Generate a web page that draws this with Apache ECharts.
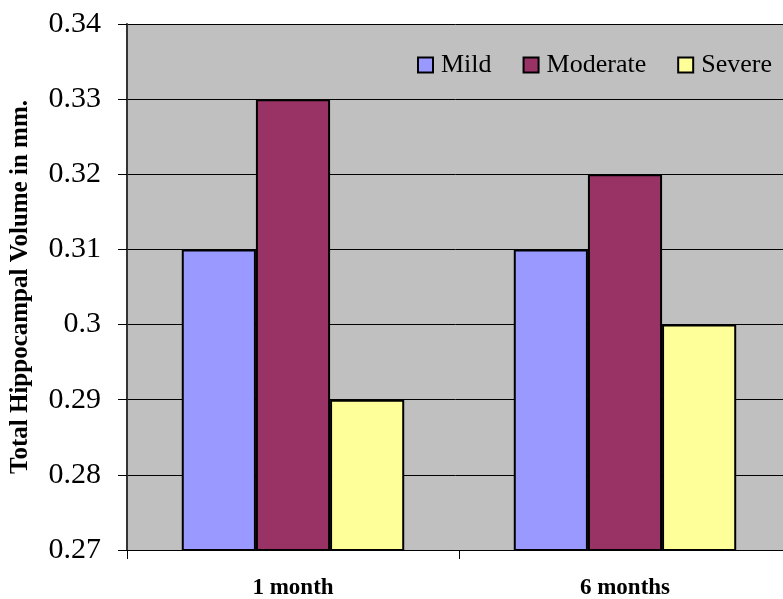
<!DOCTYPE html>
<html><head><meta charset="utf-8">
<script src="https://cdn.jsdelivr.net/npm/echarts@6/dist/echarts.min.js"></script>
<style>html,body{margin:0;padding:0;background:#fff}#c{width:783px;height:599px}</style>
</head><body><div id="c"></div>
<script>
const categories = ['1 month', '6 months'];
const mild = [0.31, 0.31];
const moderate = [0.33, 0.32];
const severe = [0.29, 0.30];
const yTicks = [0.27, 0.28, 0.29, 0.30, 0.31, 0.32, 0.33, 0.34];

const chart = echarts.init(document.getElementById('c'));
const serif = '"Liberation Serif", "Times New Roman", serif';
const mk = (name, data, color) => ({
  name, type: 'bar', data, barGap: 0, barCategoryGap: '33%',
  itemStyle: { color, borderColor: '#000', borderWidth: 2 }
});
chart.setOption({
  animation: false,
  backgroundColor: '#fff',
  textStyle: { fontFamily: serif },
  legend: {
    left: 417, top: 52, padding: 0, itemWidth: 15, itemHeight: 15, itemGap: 31, icon: 'rect',
    textStyle: { fontFamily: serif, fontSize: 26, color: '#000', padding: [0, 0, 0, 3] },
    data: ['Mild', 'Moderate', 'Severe']
  },
  grid: { left: 127, top: 24, width: 664, height: 526, show: true, backgroundColor: '#C0C0C0',
    borderWidth: 0, outerBoundsMode: 'none', containLabel: false },
  xAxis: {
    type: 'category', data: categories,
    axisLine: { lineStyle: { color: '#000' } },
    axisTick: { show: true, length: 9, lineStyle: { color: '#000' } },
    axisLabel: { fontFamily: serif, fontSize: 23, fontWeight: 'bold', color: '#000', margin: 27 }
  },
  yAxis: {
    type: 'value', min: yTicks[0], max: yTicks[yTicks.length - 1], interval: 0.01,
    name: 'Total Hippocampal Volume in mm.', nameLocation: 'middle', nameGap: 94,
    nameTextStyle: { fontFamily: serif, fontSize: 25, fontWeight: 'bold', color: '#000' },
    axisLine: { show: true, lineStyle: { color: '#333', width: 2 } },
    axisTick: { show: true, length: 9, lineStyle: { color: '#000' } },
    splitLine: { lineStyle: { color: '#000', width: 1 } },
    axisLabel: { fontFamily: serif, fontSize: 30, color: '#000', margin: 26,
      formatter: v => String(parseFloat(v.toFixed(2))) }
  },
  series: [mk('Mild', mild, '#9999FF'), mk('Moderate', moderate, '#993366'), mk('Severe', severe, '#FFFF99')]
});
</script></body></html>
